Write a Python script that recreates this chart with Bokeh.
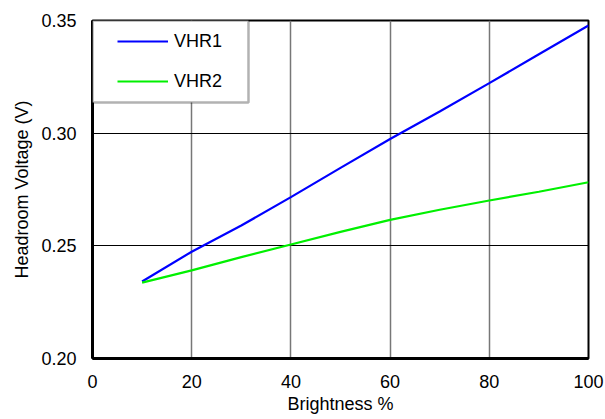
from bokeh.plotting import figure
from bokeh.models import Legend, LegendItem, FixedTicker, Range1d, BoxAnnotation
from bokeh.embed import file_html
from bokeh.resources import INLINE

brightness = [10, 20, 30, 40, 50, 60, 70, 80, 90, 100]
vhr1 = [0.2342, 0.2474, 0.2590, 0.2716, 0.2846, 0.2974, 0.3096, 0.3222, 0.3350, 0.3478]
vhr2 = [0.2337, 0.2391, 0.2450, 0.2506, 0.2562, 0.2615, 0.2660, 0.2701, 0.2740, 0.2782]
x_ticks = [0, 20, 40, 60, 80, 100]
y_ticks = [0.20, 0.25, 0.30, 0.35]
y_labels = {0.20: "0.20", 0.25: "0.25", 0.30: "0.30", 0.35: "0.35"}

FONT = "Liberation Sans"
FS = "18px"

p = figure(width=605, height=419, output_backend="svg", toolbar_location=None,
           x_range=Range1d(0, 100), y_range=Range1d(0.20, 0.35),
           min_border_left=92, min_border_right=17, min_border_top=20, min_border_bottom=61)

r1 = p.line(brightness, vhr1, line_color="#0000ff", line_width=2.2)
r2 = p.line(brightness, vhr2, line_color="#00f000", line_width=2.2)

p.outline_line_color = "black"
p.outline_line_width = 2

for ax in (p.xaxis[0], p.yaxis[0]):
    ax.axis_line_width = 3
    ax.axis_line_color = "black"
    ax.major_tick_out = 0
    ax.major_tick_in = 0
    ax.minor_tick_out = 0
    ax.minor_tick_in = 0
    ax.major_label_text_font = FONT
    ax.major_label_text_font_size = FS
    ax.major_label_text_color = "black"
    ax.axis_label_text_font = FONT
    ax.axis_label_text_font_size = FS
    ax.axis_label_text_font_style = "normal"
    ax.axis_label_text_color = "black"

p.xaxis[0].ticker = FixedTicker(ticks=x_ticks)
p.yaxis[0].ticker = FixedTicker(ticks=y_ticks)
p.yaxis[0].major_label_overrides = y_labels
p.xaxis[0].axis_label = "Brightness %"
p.yaxis[0].axis_label = "Headroom Voltage (V)"
p.xaxis[0].major_label_standoff = 16
p.xaxis[0].axis_label_standoff = 3
p.yaxis[0].major_label_standoff = 16
p.yaxis[0].axis_label_standoff = 6

p.xgrid[0].ticker = FixedTicker(ticks=x_ticks)
p.ygrid[0].ticker = FixedTicker(ticks=y_ticks)
p.xgrid[0].grid_line_color = "#777777"
p.xgrid[0].grid_line_width = 1.5
p.ygrid[0].grid_line_color = "black"
p.ygrid[0].grid_line_width = 1

# legend frame (white box with black border in the top-left corner)
legend_box = BoxAnnotation(left=0, right=31.45, top=0.35, bottom=0.3136,
                           fill_color="white", fill_alpha=1,
                           line_color="black", line_width=2.5)
p.add_layout(legend_box)

legend = Legend(items=[LegendItem(label="VHR1", renderers=[r1]),
                       LegendItem(label="VHR2", renderers=[r2])],
                location=(25, 266), margin=0, padding=0, spacing=18,
                glyph_width=51, glyph_height=22, label_height=22,
                label_standoff=6,
                border_line_alpha=0, background_fill_alpha=0,
                label_text_font=FONT, label_text_font_size=FS, label_text_color="black")
p.add_layout(legend)

open("out.html", "w").write(file_html(p, INLINE))
